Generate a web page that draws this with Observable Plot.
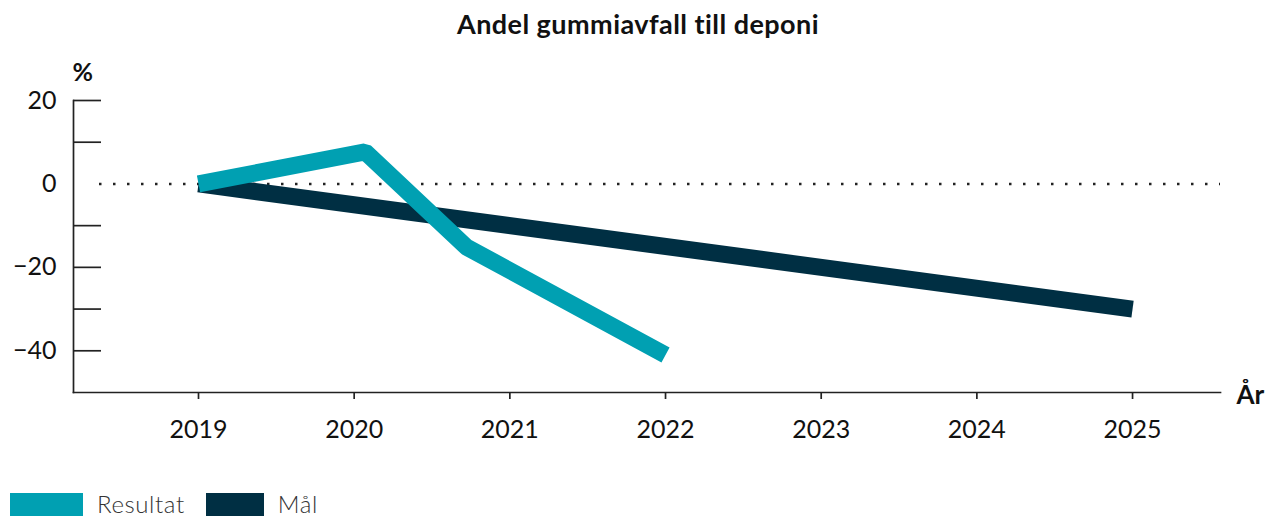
<!DOCTYPE html>
<html>
<head>
<meta charset="utf-8">
<script src="https://cdn.jsdelivr.net/npm/d3@7"></script>
<script src="https://cdn.jsdelivr.net/npm/@observablehq/plot@0.6"></script>
<style>
  html, body { margin: 0; padding: 0; background: #fff; }
  body { width: 1276px; height: 516px; overflow: hidden; font-family: Lato, "Noto Sans", sans-serif; color: #111; }
  #title { height: 50px; line-height: 48px; text-align: center; font-weight: 700; font-size: 27px; letter-spacing: 0.45px; }
  #chart svg { display: block; }
  #legend { position: absolute; top: 493px; left: 10px; display: flex; align-items: flex-start; font-size: 24px; font-weight: 300; color: #333; }
  .sw { height: 23px; display: inline-block; }
  .lab { margin-left: 14px; margin-right: 21px; line-height: 22px; height: 22px; padding-top: 0; letter-spacing: 0.6px; }
</style>
</head>
<body>
<div id="title">Andel gummiavfall till deponi</div>
<div id="chart"></div>
<div id="legend"></div>
<script>
// Data
const seriesNames = ["Resultat", "Mål"];
const seriesColors = ["#00a0b2", "#002f43"];
const resultatYear = [2019, 2020.07, 2020.72, 2022];
const resultatValue = [0, 7.7, -15.1, -41];
const maalYear = [2019, 2025];
const maalValue = [0, -30];
const xTicks = [2019, 2020, 2021, 2022, 2023, 2024, 2025];
const yLabelTicks = [20, 0, -20, -40];
const yMinorTicks = [20, 10, -10, -20, -30, -40];
const xDomain = [2018.197, 2025.565];
const yDomain = [-50, 20];

const resultat = resultatYear.map((x, i) => ({x, y: resultatValue[i]}));
const maal = maalYear.map((x, i) => ({x, y: maalValue[i]}));

const chart = Plot.plot({
  width: 1276,
  height: 420,
  marginTop: 50,
  marginBottom: 78,
  marginLeft: 73,
  marginRight: 56,
  style: {fontFamily: "Lato, 'Noto Sans', sans-serif", color: "#111", background: "#fff"},
  x: {domain: xDomain},
  y: {domain: yDomain},
  marks: [
    Plot.ruleY([0], {stroke: "#222", strokeWidth: 2.5, strokeDasharray: "2.5 11.5", insetLeft: 26}),
    Plot.frame({anchor: "left", stroke: "#222", strokeWidth: 1.7}),
    Plot.frame({anchor: "bottom", stroke: "#222", strokeWidth: 1.7}),
    Plot.axisY(yMinorTicks, {tickSize: -28, text: null, stroke: "#222", strokeWidth: 1.7, label: null}),
    Plot.axisY(yLabelTicks, {tickSize: 0, tickPadding: 17, fontSize: 25, tickFormat: d => d < 0 ? "\u2212" + Math.abs(d) : String(d), label: null, fill: "#111"}),
    Plot.axisX(xTicks, {tickSize: 7, tickPadding: 21, fontSize: 25, tickFormat: d => String(d), label: null, stroke: "#222", strokeWidth: 1.7, fill: "#111"}),
    Plot.line(maal, {x: "x", y: "y", stroke: seriesColors[1], strokeWidth: 17, strokeLinecap: "butt", strokeLinejoin: "miter"}),
    Plot.line(resultat, {x: "x", y: "y", stroke: seriesColors[0], strokeWidth: 17, strokeLinecap: "butt", strokeLinejoin: "miter"}),
    Plot.text(["%"], {frameAnchor: "top-left", text: d => d, textAnchor: "start", lineAnchor: "bottom", dx: -1, dy: -20, fontSize: 25, fontWeight: 700, fill: "#111"}),
    Plot.text(["År"], {frameAnchor: "bottom-right", text: d => d, textAnchor: "start", lineAnchor: "middle", dx: 16, dy: 3, fontSize: 26, fontWeight: 700, fill: "#111"})
  ]
});
document.getElementById("chart").appendChild(chart);

const legend = document.getElementById("legend");
const swWidths = [73, 58];
seriesNames.forEach((name, i) => {
  const sw = document.createElement("span");
  sw.className = "sw";
  sw.style.width = swWidths[i] + "px";
  sw.style.background = seriesColors[i];
  const lab = document.createElement("span");
  lab.className = "lab";
  lab.textContent = name;
  legend.appendChild(sw);
  legend.appendChild(lab);
});
</script>
</body>
</html>
